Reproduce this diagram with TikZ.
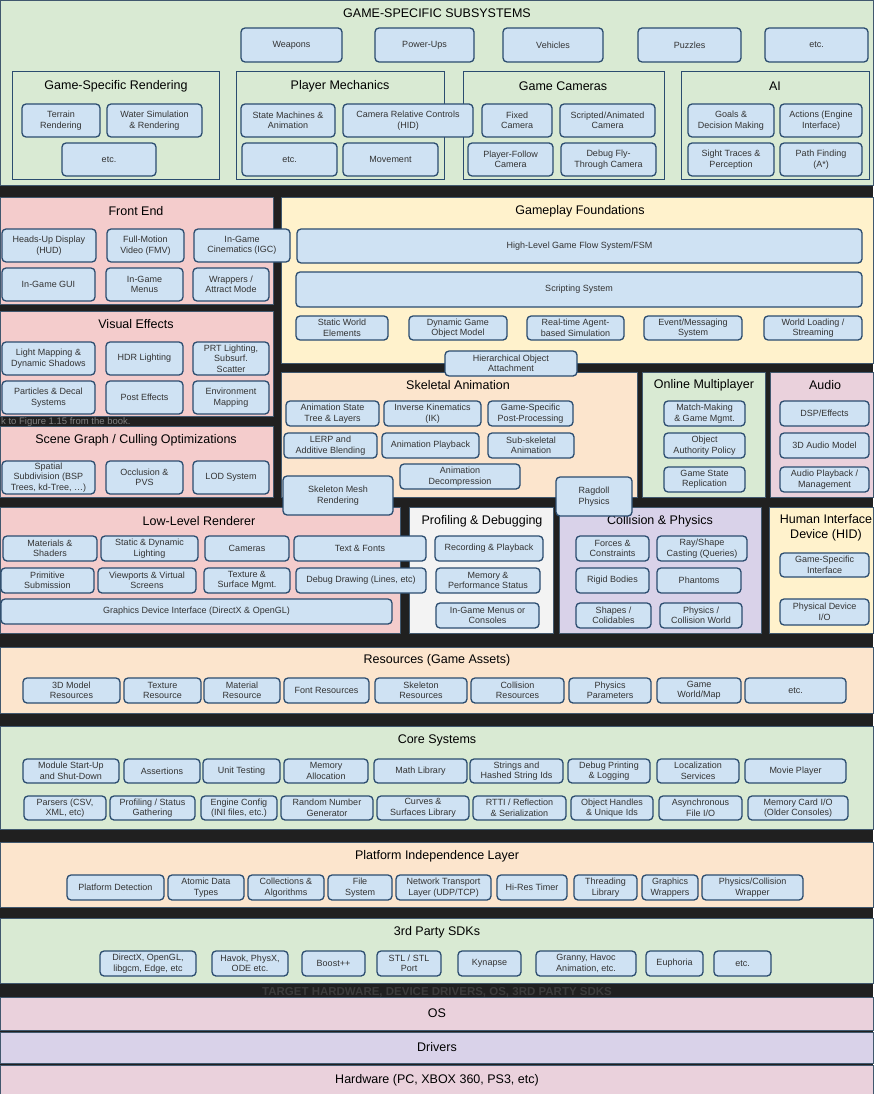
\documentclass[tikz,border=0pt]{standalone}
\usepackage{fontspec}
\setmainfont{Liberation Sans}
\definecolor{bg}{HTML}{202020}
\definecolor{cgreen}{HTML}{D9EAD3}
\definecolor{cpink}{HTML}{F4CCCC}
\definecolor{cyellow}{HTML}{FFF2CC}
\definecolor{corange}{HTML}{FCE5CD}
\definecolor{clav}{HTML}{D9D2E9}
\definecolor{clilac}{HTML}{EAD1DC}
\definecolor{cgray}{HTML}{F3F3F3}
\definecolor{boxfill}{HTML}{CFE2F3}
\definecolor{boxline}{HTML}{2B4C6F}
\definecolor{panelline}{HTML}{41586E}
\definecolor{bleedtext}{HTML}{3C3C3C}
\tikzset{
  bx/.style={draw=boxline, line width=1.3pt, fill=boxfill, rounded corners=4pt, align=center,
    inner sep=0pt, outer sep=0pt, font=\fontsize{9}{10.5}\selectfont, text=black!80},
  pn/.style={draw=panelline, line width=0.8pt, inner sep=0pt, outer sep=0pt},
  subpn/.style={draw=boxline, line width=1pt, inner sep=0pt, outer sep=0pt},
  ttl/.style={font=\fontsize{12.5}{14.5}\selectfont, inner sep=0pt, align=center, text=black},
  bleed/.style={inner sep=0pt, text=black!62},
}
\newcommand\mybox[6]{\node[bx, minimum width={(#4-#2)*1pt}, minimum height={(#5-#3)*1pt}] (#1) at ({(#2+#4)/2},{(#3+#5)/2}) {#6};}
\newcommand\mypanel[6]{\node[pn, fill=#6, minimum width={(#4-#2)*1pt}, minimum height={(#5-#3)*1pt}] (#1) at ({(#2+#4)/2},{(#3+#5)/2}) {};}
\newcommand\mysubpanel[5]{\node[subpn, fill=cgreen, minimum width={(#4-#2)*1pt}, minimum height={(#5-#3)*1pt}] (#1) at ({(#2+#4)/2},{(#3+#5)/2}) {};}
\begin{document}
\begin{tikzpicture}[x=1pt,y=-1pt]
\useasboundingbox (0,0) rectangle (873,1094);
\fill[bg] (0,0) rectangle (873,1094);
% bleed-through texts
\node[bleed, anchor=west, font=\fontsize{9.5}{10}\selectfont, text=black!50] (note) at (1,422) {k to Figure 1.15 from the book.};
\node[bleed, font=\fontsize{11.5}{12}\selectfont\bfseries, text=bleedtext] (target) at (437,992) {TARGET HARDWARE, DEVICE DRIVERS, OS, 3RD PARTY SDKS};

% ---------- panels ----------
\mypanel{gss}{0}{0}{873}{185}{cgreen}
\mysubpanel{gsr}{12}{72}{219}{180}
\mysubpanel{pm}{236}{72}{444}{180}
\mysubpanel{gc}{463}{72}{664}{180}
\mysubpanel{ai}{681}{72}{869}{180}

\mypanel{fe}{0}{197}{273}{304}{cpink}
\mypanel{ve}{0}{311}{273}{416}{cpink}
\mypanel{sg}{0}{426}{273}{497}{cpink}
\mypanel{gf}{281}{197}{873}{363}{cyellow}
\mypanel{sa}{281}{372}{637}{497}{corange}
\mypanel{om}{642}{372}{765}{497}{cgreen}
\mypanel{au}{770}{372}{873}{497}{clilac}
\mypanel{llr}{0}{507}{400}{633}{cpink}
\mypanel{pd}{409}{507}{553}{633}{cgray}
\mypanel{cp}{559}{507}{761}{633}{clav}
\mypanel{hid}{769}{507}{873}{633}{cyellow}
\mypanel{res}{0}{647}{873}{713}{corange}
\mypanel{core}{0}{726}{873}{829}{cgreen}
\mypanel{pil}{0}{842}{873}{907}{corange}
\mypanel{sdk}{0}{918}{873}{983}{cgreen}
\mypanel{os}{0}{997}{873}{1030}{clilac}
\mypanel{drv}{0}{1032}{873}{1063}{clav}
\mypanel{hw}{0}{1065}{873}{1096}{clilac}

% ---------- titles ----------
\node[ttl] (gsst) at (437,13) {GAME-SPECIFIC SUBSYSTEMS};
\node[ttl] (gsrt) at (116,86) {Game-Specific Rendering};
\node[ttl] (pmt) at (340,86) {Player Mechanics};
\node[ttl] (gct) at (563,86) {Game Cameras};
\node[ttl] (ait) at (775,86) {AI};
\node[ttl] (fet) at (136,211) {Front End};
\node[ttl] (vet) at (136,324) {Visual Effects};
\node[ttl] (sgt) at (136,440) {Scene Graph / Culling Optimizations};
\node[ttl] (gft) at (580,211) {Gameplay Foundations};
\node[ttl] (sat) at (458,385) {Skeletal Animation};
\node[ttl] (omt) at (704,385) {Online Multiplayer};
\node[ttl] (aut) at (825,385) {Audio};
\node[ttl] (llrt) at (199,521) {Low-Level Renderer};
\node[ttl] (pdt) at (482,521) {Profiling \& Debugging};
\node[ttl] (cpt) at (660,521) {Collision \& Physics};
\node[ttl] (hidt) at (826,528) {Human Interface\\Device (HID)};
\node[ttl] (rest) at (437,660) {Resources (Game Assets)};
\node[ttl] (coret) at (437,740) {Core Systems};
\node[ttl] (pilt) at (437,856) {Platform Independence Layer};
\node[ttl] (sdkt) at (437,932) {3rd Party SDKs};
\node[ttl] (ost) at (437,1013) {OS};
\node[ttl] (drvt) at (437,1047) {Drivers};
\node[ttl] (hwt) at (437,1080) {Hardware (PC, XBOX 360, PS3, etc)};

% ---------- game-specific subsystems ----------
\mybox{weap}{241}{28}{342}{62}{Weapons}
\mybox{pwr}{375}{28}{474}{62}{Power-Ups}
\mybox{veh}{503}{28}{603}{62}{Vehicles}
\mybox{puz}{638}{28}{741}{62}{Puzzles}
\mybox{gsetc}{765}{28}{868}{62}{etc.}
\mybox{terr}{22}{104}{100}{137}{Terrain\\Rendering}
\mybox{water}{107}{104}{202}{137}{Water Simulation\\\& Rendering}
\mybox{gsretc}{62}{143}{156}{176}{etc.}
\mybox{sm}{241}{104}{335}{137}{State Machines \&\\Animation}
\mybox{pmetc}{242}{143}{337}{176}{etc.}
\mybox{mov}{343}{143}{438}{176}{Movement}
\mybox{fixc}{482}{104}{552}{137}{Fixed\\Camera}
\mybox{scrc}{560}{104}{655}{137}{Scripted/Animated\\Camera}
\mybox{pfc}{468}{143}{553}{176}{Player-Follow\\Camera}
\mybox{dbgc}{561}{143}{656}{176}{Debug Fly-\\Through Camera}
\mybox{goals}{688}{104}{774}{137}{Goals \&\\Decision Making}
\mybox{act}{780}{104}{862}{137}{Actions (Engine\\Interface)}
\mybox{sight}{688}{143}{774}{176}{Sight Traces \&\\Perception}
\mybox{path}{780}{143}{862}{176}{Path Finding\\(A*)}
\mybox{crc}{343}{104}{473}{137}{Camera Relative Controls\\(HID)}

% ---------- front end / visual effects / scene graph ----------
\mybox{hud}{2}{229}{96}{262}{Heads-Up Display\\(HUD)}
\mybox{fmv}{107}{229}{184}{262}{Full-Motion\\Video (FMV)}
\mybox{gui}{2}{268}{95}{301}{In-Game GUI}
\mybox{igm}{106}{268}{183}{301}{In-Game\\Menus}
\mybox{wrap}{193}{268}{269}{301}{Wrappers /\\Attract Mode}
\mybox{light}{2}{342}{95}{375}{Light Mapping \&\\Dynamic Shadows}
\mybox{hdr}{106}{342}{183}{375}{HDR Lighting}
\mybox{prt}{193}{342}{269}{375}{PRT Lighting,\\Subsurf.\\Scatter}
\mybox{part}{2}{381}{95}{414}{Particles \& Decal\\Systems}
\mybox{post}{106}{381}{183}{414}{Post Effects}
\mybox{env}{193}{381}{269}{414}{Environment\\Mapping}
\mybox{spat}{2}{461}{95}{494}{Spatial\\Subdivision (BSP\\Trees, kd-Tree, \ldots)}
\mybox{occ}{106}{461}{183}{494}{Occlusion \&\\PVS}
\mybox{lod}{193}{461}{269}{494}{LOD System}

% ---------- gameplay foundations ----------
\mybox{hlgf}{297}{229}{862}{263}{High-Level Game Flow System/FSM}
\mybox{scr}{296}{272}{862}{307}{Scripting System}
\mybox{swe}{296}{316}{388}{340}{Static World\\Elements}
\mybox{dgom}{409}{316}{507}{340}{Dynamic Game\\Object Model}
\mybox{rta}{527}{316}{624}{340}{Real-time Agent-\\based Simulation}
\mybox{evt}{644}{316}{742}{340}{Event/Messaging\\System}
\mybox{wls}{764}{316}{862}{340}{World Loading /\\Streaming}
\mybox{igc}{194}{229}{290}{262}{In-Game\\Cinematics (IGC)}
\mybox{hoa}{445}{351}{577}{376}{Hierarchical Object\\Attachment}

% ---------- skeletal animation ----------
\mybox{ast}{286}{401}{379}{426}{Animation State\\Tree \& Layers}
\mybox{ik}{384}{401}{481}{426}{Inverse Kinematics\\(IK)}
\mybox{gspp}{488}{401}{573}{426}{Game-Specific\\Post-Processing}
\mybox{lerp}{284}{433}{377}{458}{LERP and\\Additive Blending}
\mybox{ap}{382}{433}{479}{458}{Animation Playback}
\mybox{sub}{488}{433}{574}{458}{Sub-skeletal\\Animation}
\mybox{adec}{400}{464}{520}{489}{Animation\\Decompression}

% ---------- online multiplayer / audio ----------
\mybox{mm}{664}{401}{745}{426}{Match-Making\\\& Game Mgmt.}
\mybox{oap}{664}{433}{745}{458}{Object\\Authority Policy}
\mybox{gsrep}{664}{467}{745}{492}{Game State\\Replication}
\mybox{dsp}{780}{401}{869}{426}{DSP/Effects}
\mybox{a3d}{780}{433}{869}{458}{3D Audio Model}
\mybox{apm}{780}{467}{869}{492}{Audio Playback /\\Management}

% ---------- low-level renderer ----------
\mybox{mat}{3}{536}{97}{561}{Materials \&\\Shaders}
\mybox{sdl}{101}{536}{198}{561}{Static \& Dynamic\\Lighting}
\mybox{cam}{205}{536}{289}{561}{Cameras}
\mybox{tf}{294}{536}{426}{561}{Text \& Fonts}
\mybox{prim}{1}{568}{94}{593}{Primitive\\Submission}
\mybox{vp}{98}{568}{196}{593}{Viewports \& Virtual\\Screens}
\mybox{tex}{204}{568}{290}{593}{Texture \&\\Surface Mgmt.}
\mybox{dd}{296}{568}{426}{593}{Debug Drawing (Lines, etc)}
\mybox{gdi}{1}{599}{392}{624}{Graphics Device Interface (DirectX \& OpenGL)}

% ---------- profiling / collision / hid ----------
\mybox{rec}{435}{536}{543}{561}{Recording \& Playback}
\mybox{mps}{436}{568}{540}{593}{Memory \&\\Performance Status}
\mybox{igmc}{436}{603}{539}{628}{In-Game Menus or\\Consoles}
\mybox{forc}{576}{536}{649}{561}{Forces \&\\Constraints}
\mybox{ray}{657}{536}{747}{561}{Ray/Shape\\Casting (Queries)}
\mybox{rigid}{576}{568}{649}{593}{Rigid Bodies}
\mybox{phan}{657}{568}{741}{593}{Phantoms}
\mybox{shp}{576}{603}{651}{628}{Shapes /\\Colidables}
\mybox{pcw}{660}{603}{742}{628}{Physics /\\Collision World}
\mybox{gsi}{780}{553}{869}{577}{Game-Specific\\Interface}
\mybox{pdio}{780}{599}{869}{625}{Physical Device\\I/O}

% overlapping boxes
\mybox{smr}{283}{476}{393}{515}{Skeleton Mesh\\Rendering}
\mybox{rag}{556}{477}{632}{516}{Ragdoll\\Physics}

% ---------- resources ----------
\mybox{r3d}{23}{678}{120}{703}{3D Model\\Resources}
\mybox{rtex}{124}{678}{201}{703}{Texture\\Resource}
\mybox{rmat}{204}{678}{280}{703}{Material\\Resource}
\mybox{rfont}{284}{678}{369}{703}{Font Resources}
\mybox{rskel}{375}{678}{467}{703}{Skeleton\\Resources}
\mybox{rcol}{471}{678}{564}{703}{Collision\\Resources}
\mybox{rphys}{569}{678}{651}{703}{Physics\\Parameters}
\mybox{rgw}{657}{678}{741}{703}{Game\\World/Map}
\mybox{retc}{745}{678}{846}{703}{etc.}

% ---------- core systems ----------
\mybox{mod}{23}{759}{119}{783}{Module Start-Up\\and Shut-Down}
\mybox{assr}{124}{759}{200}{783}{Assertions}
\mybox{unit}{203}{759}{280}{783}{Unit Testing}
\mybox{mem}{284}{759}{368}{783}{Memory\\Allocation}
\mybox{math}{374}{759}{467}{783}{Math Library}
\mybox{str}{470}{759}{563}{783}{Strings and\\Hashed String Ids}
\mybox{dbgp}{568}{759}{650}{783}{Debug Printing\\\& Logging}
\mybox{loc}{657}{759}{739}{783}{Localization\\Services}
\mybox{movie}{745}{759}{846}{783}{Movie Player}
\mybox{pars}{24}{796}{106}{820}{Parsers (CSV,\\XML, etc)}
\mybox{prof}{110}{796}{195}{820}{Profiling / Status\\Gathering}
\mybox{ecfg}{201}{796}{277}{820}{Engine Config\\(INI files, etc.)}
\mybox{rng}{281}{796}{373}{820}{Random Number\\Generator}
\mybox{curv}{377}{796}{469}{820}{Curves \&\\Surfaces Library}
\mybox{rtti}{473}{796}{566}{820}{RTTI / Reflection\\\& Serialization}
\mybox{oh}{571}{796}{653}{820}{Object Handles\\\& Unique Ids}
\mybox{async}{659}{796}{742}{820}{Asynchronous\\File I/O}
\mybox{mc}{748}{796}{848}{820}{Memory Card I/O\\(Older Consoles)}

% ---------- platform independence ----------
\mybox{pdet}{67}{875}{164}{900}{Platform Detection}
\mybox{atom}{168}{875}{244}{900}{Atomic Data\\Types}
\mybox{coll}{248}{875}{324}{900}{Collections \&\\Algorithms}
\mybox{fs}{328}{875}{392}{900}{File\\System}
\mybox{net}{396}{875}{491}{900}{Network Transport\\Layer (UDP/TCP)}
\mybox{hrt}{497}{875}{567}{900}{Hi-Res Timer}
\mybox{thr}{574}{875}{637}{900}{Threading\\Library}
\mybox{gw}{642}{875}{698}{900}{Graphics\\Wrappers}
\mybox{pcwr}{702}{875}{803}{900}{Physics/Collision\\Wrapper}

% ---------- 3rd party sdks ----------
\mybox{dx}{100}{951}{196}{976}{DirectX, OpenGL,\\libgcm, Edge, etc}
\mybox{hav}{212}{951}{288}{976}{Havok, PhysX,\\ODE etc.}
\mybox{boost}{302}{951}{365}{976}{Boost++}
\mybox{stl}{377}{951}{441}{976}{STL / STL\\Port}
\mybox{kyn}{458}{951}{521}{976}{Kynapse}
\mybox{gran}{536}{951}{636}{976}{Granny, Havoc\\Animation, etc.}
\mybox{euph}{646}{951}{703}{976}{Euphoria}
\mybox{sdketc}{714}{951}{771}{976}{etc.}
\end{tikzpicture}
\end{document}
